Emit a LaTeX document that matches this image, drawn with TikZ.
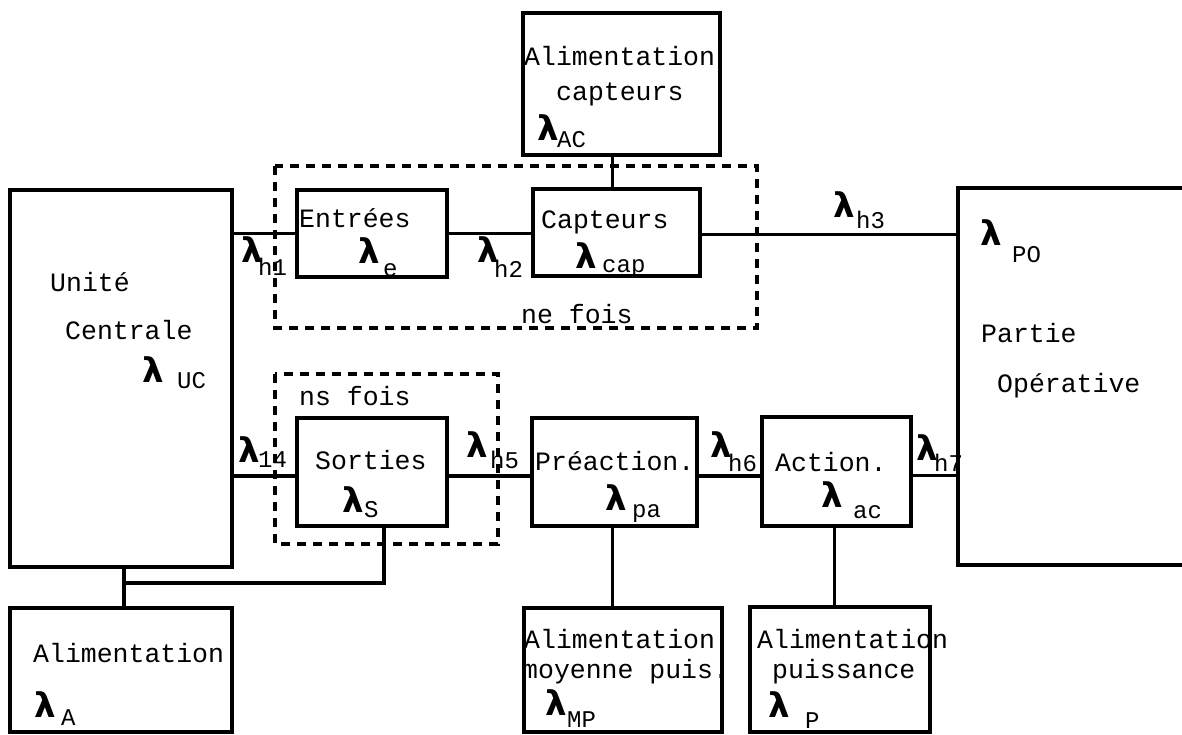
\documentclass[tikz,border=0pt]{standalone}
\usepackage{fontspec}
\newfontfamily\monofont{Liberation Mono}
\newfontfamily\lamfont{DejaVu Sans}
\begin{document}
\begin{tikzpicture}[x=1pt,y=-1pt,
  box/.style={draw,line width=3.8pt,inner sep=0pt,outer sep=0pt,anchor=north west},
  wire/.style={line width=3.2pt},
  group/.style={draw,line width=3.4pt,dash pattern=on 9pt off 7pt},
  txt/.style={anchor=base west,inner sep=0pt,font=\monofont\fontsize{26.5}{26.5}\selectfont},
  sub/.style={anchor=base west,inner sep=0pt,font=\monofont\fontsize{24}{24}\selectfont},
  lam/.style={anchor=base west,inner sep=0pt,font=\lamfont\bfseries\fontsize{34}{34}\selectfont}]
\useasboundingbox (0,0) rectangle (1182,734);
\clip (0,0) rectangle (1182,734);
\fill[white] (0,0) rectangle (1182,734);

% blocks (corner given at the top left)
\node[box,minimum width=222pt,minimum height=377pt] (uc)  at (10,190)  {};
\node[box,minimum width=222pt,minimum height=124pt] (alA) at (10,608)  {};
\node[box,minimum width=197pt,minimum height=142pt] (alC) at (523,13)  {};
\node[box,minimum width=150pt,minimum height=87pt]  (ent) at (297,190) {};
\node[box,minimum width=167pt,minimum height=87pt]  (cap) at (533,189) {};
\node[box,minimum width=240pt,minimum height=377pt] (po)  at (958,188) {};
\node[box,minimum width=150pt,minimum height=108pt] (sor) at (297,418) {};
\node[box,minimum width=165pt,minimum height=108pt] (pre) at (532,418) {};
\node[box,minimum width=149pt,minimum height=109pt] (act) at (762,417) {};
\node[box,minimum width=198pt,minimum height=124pt] (alM) at (524,608) {};
\node[box,minimum width=180pt,minimum height=125pt] (alP) at (750,607) {};

% repeated groups
\draw[group] (275,166) rectangle (757,328);
\draw[group] (275,374) rectangle (498,544);

% links
\draw[wire] (ent.west) -- (ent.west -| uc.east);
\draw[wire] (ent.east) -- (ent.east -| cap.west);
\draw[wire] ([yshift=-2pt]cap.east) -- ([yshift=-2pt]cap.east -| po.west);
\draw[wire] ([xshift=-4pt]cap.north) -- ([xshift=-4pt]cap.north |- alC.south);
\draw[wire] ([yshift=-4pt]sor.west) -- ([yshift=-4pt]sor.west -| uc.east);
\draw[wire] ([yshift=-4pt]sor.east) -- ([yshift=-4pt]sor.east -| pre.west);
\draw[wire] ([yshift=-4pt]pre.east) -- ([yshift=-4pt]pre.east -| act.west);
\draw[wire] ([yshift=-4pt]act.east) -- ([yshift=-4pt]act.east -| po.west);
\draw[wire] ([xshift=-2pt]pre.south) -- ([xshift=-2pt]pre.south |- alM.north);
\draw[wire] ([xshift=-2pt]act.south) -- ([xshift=-2pt]act.south |- alP.north);
\coordinate (j) at (124,583);
\draw[wire] (j |- uc.south) -- (j |- alA.north);
\draw[wire] ([xshift=12pt]sor.south) |- (j);

% block texts
\node[txt] (tC1) at (524,65)  {Alimentation};
\node[txt] (tC2) at (556,100) {capteurs};
\node[txt] (tU1) at (50,291)  {Unité};
\node[txt] (tU2) at (65,339)  {Centrale};
\node[txt] (tE)  at (299,227) {Entrées};
\node[txt] (tK)  at (541,228) {Capteurs};
\node[txt] (tNe) at (521,323) {ne fois};
\node[txt] (tP1) at (981,342) {Partie};
\node[txt] (tP2) at (997,392) {Opérative};
\node[txt] (tNs) at (299,405) {ns fois};
\node[txt] (tS)  at (315,469) {Sorties};
\node[txt] (tPr) at (535,470) {Préaction.};
\node[txt] (tAc) at (775,471) {Action.};
\node[txt] (tA1) at (33,662)  {Alimentation};
\node[txt] (tM1) at (524,648) {Alimentation};
\node[txt] (tM2) at (522,678) {moyenne puis.};
\node[txt] (tQ1) at (757,648) {Alimentation};
\node[txt] (tQ2) at (772,678) {puissance};

% failure rates
\node[lam] (lAC) at (537,140) {λ}; \node[sub] (sAC) at (557,147) {AC};
\node[lam] (lUC) at (142,382) {λ}; \node[sub] (sUC) at (177,388) {UC};
\node[lam] (lh1) at (241,262) {λ}; \node[sub] (sh1) at (258,275) {h1};
\node[lam] (le)  at (358,263) {λ}; \node[sub] (se)  at (383,276) {e};
\node[lam] (lh2) at (477,262) {λ}; \node[sub] (sh2) at (494,277) {h2};
\node[lam] (lcp) at (575,268) {λ}; \node[sub] (scp) at (602,272) {cap};
\node[lam] (lh3) at (833,217) {λ}; \node[sub] (sh3) at (856,228) {h3};
\node[lam] (lPO) at (980,245) {λ}; \node[sub] (sPO) at (1012,262) {PO};
\node[lam] (l14) at (238,462) {λ}; \node[sub] (s14) at (258,467) {14};
\node[lam] (lS)  at (342,512) {λ}; \node[sub] (sS)  at (364,517) {S};
\node[lam] (lh5) at (466,457) {λ}; \node[sub] (sh5) at (490,468) {h5};
\node[lam] (lpa) at (605,510) {λ}; \node[sub] (spa) at (632,517) {pa};
\node[lam] (lh6) at (710,457) {λ}; \node[sub] (sh6) at (728,471) {h6};
\node[lam] (lac) at (821,507) {λ}; \node[sub] (sac) at (853,518) {ac};
\node[lam] (lh7) at (916,460) {λ}; \node[sub] (sh7) at (934,471) {h7};
\node[lam] (lA)  at (34,717)  {λ}; \node[sub] (sA)  at (61,725)  {A};
\node[lam] (lMP) at (545,715) {λ}; \node[sub] (sMP) at (567,727) {MP};
\node[lam] (lP)  at (768,717) {λ}; \node[sub] (sP)  at (805,728) {P};
\end{tikzpicture}
\end{document}
